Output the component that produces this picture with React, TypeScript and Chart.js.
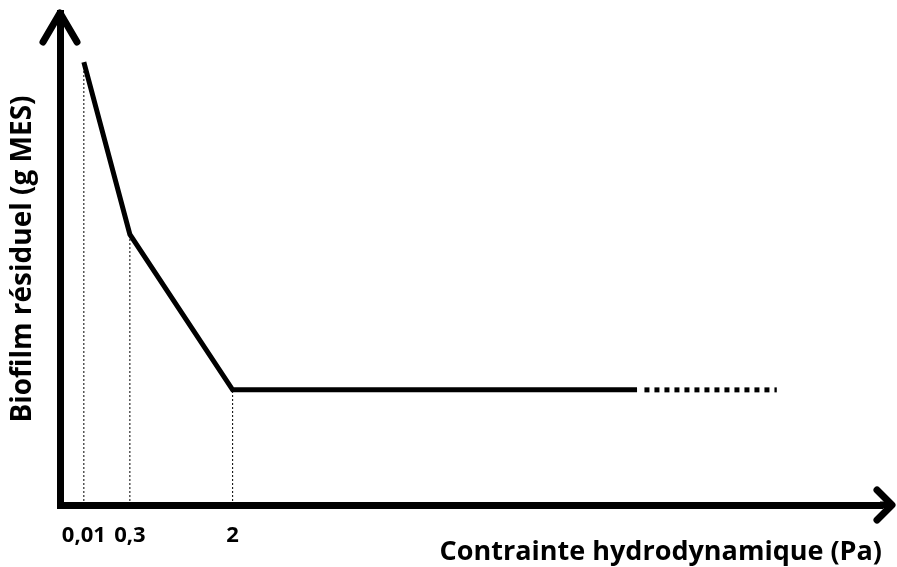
import { useEffect, useRef } from 'react';
import { Chart, registerables } from 'chart.js';

Chart.register(...registerables);

// ---- data (schematic positions along the axes) ----
const stressTickLabels = ['0,01', '0,3', '2'];
const stressPositions = [2.9, 8.5, 21.0];
const residualBiofilm = [90, 55, 23.4];
const plateauSolidEnd = 70.2;
const plateauDottedStart = 71.1;
const plateauDottedEnd = 87.2;
const xTitle = 'Contrainte hydrodynamique (Pa)';
const yTitle = 'Biofilm résiduel (g MES)';

const FONT = '"Open Sans", Lato, sans-serif';

const arrowPlugin = {
  id: 'axisArrows',
  afterDraw(chart: any) {
    const { ctx, chartArea } = chart;
    const { left, top, right, bottom } = chartArea;
    ctx.save();
    ctx.strokeStyle = '#000';
    ctx.lineWidth = 7;
    ctx.lineCap = 'round';
    ctx.lineJoin = 'round';
    // y-axis arrow head
    ctx.beginPath();
    ctx.moveTo(left - 17, top + 29);
    ctx.lineTo(left, top);
    ctx.lineTo(left + 17, top + 29);
    ctx.stroke();
    // x-axis extension + arrow head
    const tip = right + 10;
    ctx.lineCap = 'butt';
    ctx.beginPath();
    ctx.moveTo(right - 2, bottom);
    ctx.lineTo(tip, bottom);
    ctx.stroke();
    ctx.lineCap = 'round';
    ctx.beginPath();
    ctx.moveTo(tip - 15, bottom - 15);
    ctx.lineTo(tip, bottom);
    ctx.lineTo(tip - 15, bottom + 15);
    ctx.stroke();
    ctx.restore();
  },
};

export default function App() {
  const ref = useRef<HTMLCanvasElement | null>(null);

  useEffect(() => {
    if (!ref.current) return;
    const plateau = residualBiofilm[residualBiofilm.length - 1];
    const mainLine = stressPositions.map((x, i) => ({ x, y: residualBiofilm[i] }));
    mainLine.push({ x: plateauSolidEnd, y: plateau });

    const guides = stressPositions.map((x, i) => ({
      data: [
        { x, y: 0 },
        { x, y: residualBiofilm[i] },
      ],
      borderColor: '#000',
      borderWidth: 1,
      borderDash: [2, 2],
      pointRadius: 0,
      showLine: true,
    }));

    const chart = new Chart(ref.current, {
      type: 'scatter',
      data: {
        datasets: [
          ...guides,
          {
            data: mainLine,
            borderColor: '#000',
            borderWidth: 5,
            borderCapStyle: 'butt',
            borderJoinStyle: 'miter',
            pointRadius: 0,
            showLine: true,
          },
          {
            data: [
              { x: plateauDottedStart, y: plateau },
              { x: plateauDottedEnd, y: plateau },
            ],
            borderColor: '#000',
            borderWidth: 5,
            borderDash: [5, 5],
            pointRadius: 0,
            showLine: true,
          },
        ] as any,
      },
      options: {
        animation: false,
        responsive: false,
        layout: { padding: { top: 13, right: 15, left: 0, bottom: 0 } },
        plugins: { legend: { display: false }, tooltip: { enabled: false } },
        scales: {
          x: {
            type: 'linear',
            min: 0,
            max: 100,
            afterFit(scale: any) {
              scale.height = 62;
            },
            afterBuildTicks(scale: any) {
              scale.ticks = stressPositions.map((v) => ({ value: v }));
            },
            grid: { display: false, drawTicks: false },
            border: { display: true, width: 7, color: '#000' },
            ticks: {
              autoSkip: false,
              maxRotation: 0,
              padding: 18,
              color: '#000',
              font: { family: FONT, size: 22, weight: 'bold' },
              callback: (_v: any, i: number) => stressTickLabels[i],
            },
            title: {
              display: true,
              text: xTitle,
              align: 'end',
              color: '#000',
              font: { family: FONT, size: 27, weight: 'bold' },
              padding: { top: 0, bottom: -2 },
            },
          },
          y: {
            type: 'linear',
            min: 0,
            max: 100,
            afterFit(scale: any) {
              scale.width = 60;
            },
            grid: { display: false, drawTicks: false },
            border: { display: true, width: 7, color: '#000' },
            ticks: { display: false },
            title: {
              display: true,
              text: yTitle,
              color: '#000',
              font: { family: FONT, size: 28, weight: 'bold' },
              padding: { top: 6, bottom: 0 },
            },
          },
        },
      },
      plugins: [arrowPlugin],
    } as any);
    return () => chart.destroy();
  }, []);

  return (
    <div style={{ position: 'absolute', left: 0, top: 0, width: 897, height: 567, background: '#fff' }}>
      <canvas ref={ref} width={897} height={567} />
    </div>
  );
}
